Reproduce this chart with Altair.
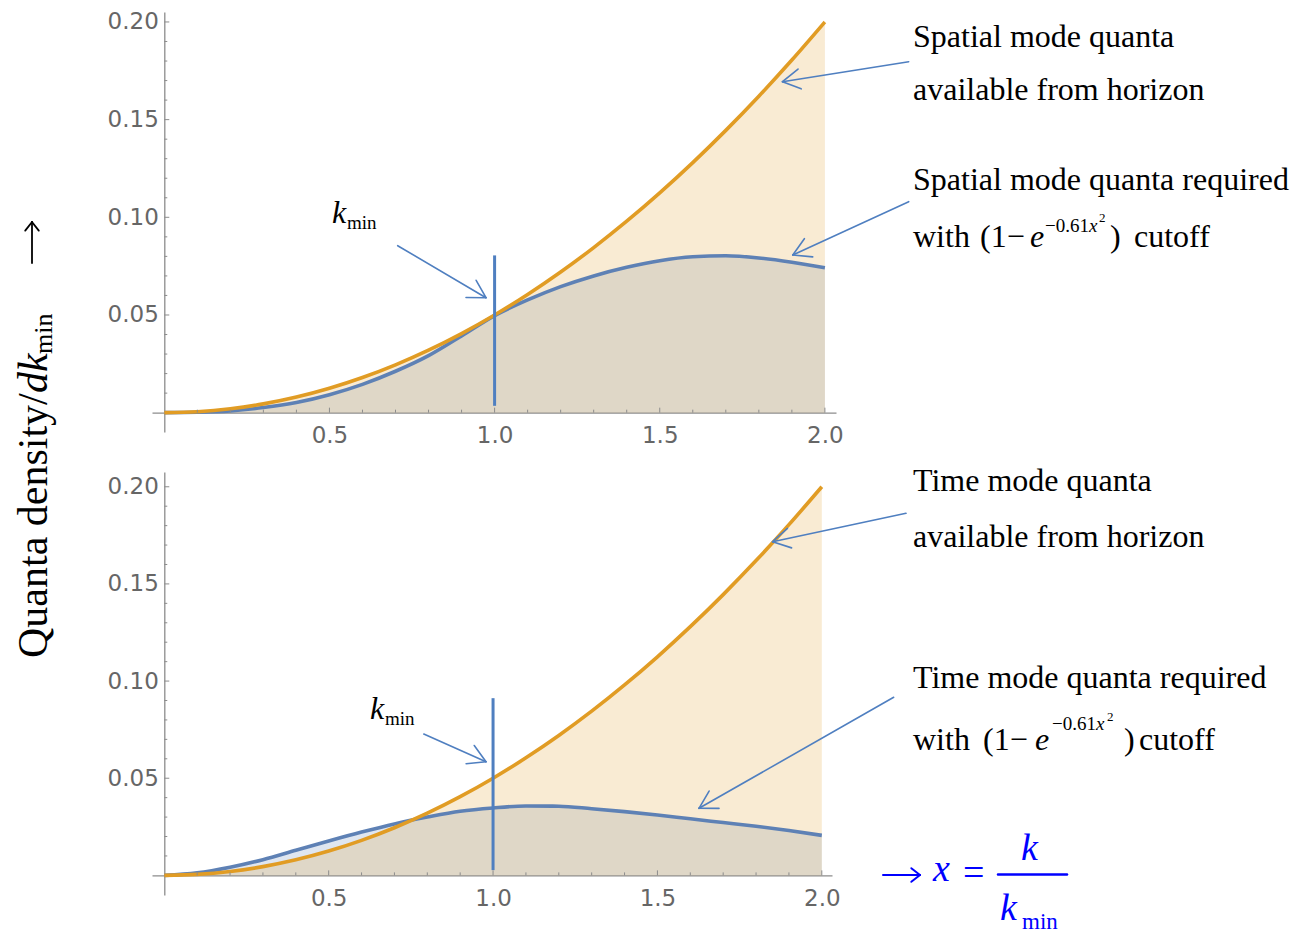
import math
import altair as alt
import pandas as pd

# ---- data -------------------------------------------------------------
# x = k / k_min
x_grid = [0.0, 0.1, 0.2, 0.3, 0.4, 0.5, 0.6, 0.7, 0.8, 0.9, 1.0,
          1.1, 1.2, 1.3, 1.4, 1.5, 1.6, 1.7, 1.8, 1.9, 2.0]

# quanta available from the horizon (same in both panels)
available = [0.0, 0.0005, 0.002, 0.0045, 0.008, 0.0125, 0.018, 0.0245, 0.032, 0.0405, 0.05,
             0.0605, 0.072, 0.0845, 0.098, 0.1125, 0.128, 0.1445, 0.162, 0.1805, 0.2]

# quanta required with the (1 - e^{-0.61 x^2}) cutoff
spatial_required = [0.0, 0.0002, 0.0009, 0.0026, 0.0052, 0.0092, 0.0145, 0.0212, 0.0292, 0.0393, 0.0497,
                    0.0577, 0.0645, 0.0700, 0.0744, 0.0778, 0.0798, 0.0803, 0.0792, 0.0770, 0.0742]
time_required = [0.0, 0.0013, 0.0042, 0.0081, 0.0129, 0.0177, 0.0223, 0.0265, 0.0300, 0.0330, 0.0347,
                 0.0357, 0.0356, 0.0343, 0.0328, 0.0311, 0.0291, 0.0272, 0.0253, 0.0231, 0.0206]

# k_min marker (x = 1) vertical extent in each panel
kmin_x = 1.0
kmin_span_top = [0.0035, 0.0805]
kmin_span_bottom = [0.0027, 0.0912]

# axis ticks
y_tick_values = [0.05, 0.10, 0.15, 0.20]
x_tick_values = [0.5, 1.0, 1.5, 2.0]
y_minor_values = [round(0.01 * i, 2) for i in range(1, 21)]
x_minor_values = [round(0.1 * i, 1) for i in range(1, 21)]

# ---- styling ----------------------------------------------------------
ORANGE = "#E19C24"
BLUE = "#5E81B5"
MARKER = "#4F7FC0"
AXIS_GRAY = "#8c8c8c"
LABEL_GRAY = "#666666"
SERIF = "Liberation Serif"
SANS = "DejaVu Sans"
MATH_BLUE = "#0000FF"

one = pd.DataFrame({"o": [0]})


def text(s, px, py, size=32, style="normal", color="black", angle=0,
         baseline="alphabetic", align="left", font=SERIF):
    return alt.Chart(one).mark_text(
        text=s, font=font, fontSize=size, fontStyle=style, color=color,
        angle=angle, baseline=baseline, align=align,
    ).encode(x=alt.value(px), y=alt.value(py))


def segment(x0, y0, x1, y1, color=MARKER, width=1.6):
    return alt.Chart(one).mark_rule(color=color, strokeWidth=width, strokeCap="round").encode(
        x=alt.value(x0), y=alt.value(y0), x2=alt.value(x1), y2=alt.value(y1))


def arrow(x0, y0, x1, y1, head=20, spread=30, color=MARKER, width=1.6):
    ang = math.atan2(y1 - y0, x1 - x0)
    parts = [segment(x0, y0, x1, y1, color, width)]
    for s in (1, -1):
        a = ang + math.pi + s * math.radians(spread)
        parts.append(segment(x1, y1, x1 + head * math.cos(a), y1 + head * math.sin(a),
                             color, width))
    return parts


def panel(required, kmin_span, width, height, xdom, ydom, xoff, yoff, extras):
    sx = alt.Scale(domain=xdom, nice=False, zero=False)
    sy = alt.Scale(domain=ydom, nice=False, zero=False)
    ax = alt.Axis(values=x_tick_values, format=".1f", ticks=False, tickSize=0,
                  offset=xoff, labelPadding=12, labelFont=SANS, labelFontSize=23,
                  labelColor=LABEL_GRAY, labelFlush=False, labelOverlap=False,
                  domainColor=AXIS_GRAY, domainWidth=1.3, grid=False, title=None)
    ay = alt.Axis(values=y_tick_values, format=".2f", ticks=False, tickSize=0,
                  offset=yoff, labelPadding=6, labelFont=SANS, labelFontSize=23,
                  labelColor=LABEL_GRAY, labelFlush=False, labelOverlap=False,
                  domainColor=AXIS_GRAY, domainWidth=1.3, grid=False, title=None)

    def X(f):
        return alt.X(f, type="quantitative", scale=sx, axis=ax)

    def Y(f):
        return alt.Y(f, type="quantitative", scale=sy, axis=ay)

    df = pd.DataFrame({"x": x_grid, "avail": available, "req": required, "zero": 0.0})
    base = alt.Chart(df)

    fill_req = base.mark_area(color=BLUE, opacity=0.2, interpolate="monotone").encode(
        x=X("x"), y=Y("req"), y2="zero")
    fill_avail = base.mark_area(color=ORANGE, opacity=0.2, interpolate="monotone").encode(
        x=X("x"), y=Y("avail"), y2="zero")
    line_req = base.mark_line(color=BLUE, strokeWidth=3.6, interpolate="monotone").encode(
        x=X("x"), y=Y("req"))
    line_avail = base.mark_line(color=ORANGE, strokeWidth=3.6, interpolate="monotone").encode(
        x=X("x"), y=Y("avail"))

    marker = alt.Chart(pd.DataFrame({"x": [kmin_x], "lo": [kmin_span[0]], "hi": [kmin_span[1]]})
                       ).mark_rule(color=MARKER, strokeWidth=3).encode(
        x=X("x"), y=Y("lo"), y2="hi")

    # inward-pointing tick marks, Mathematica style
    ytk = pd.DataFrame({"x0": 0.0, "v": y_minor_values})
    ytk["major"] = [abs(v / 0.05 - round(v / 0.05)) < 1e-6 for v in y_minor_values]
    xtk = pd.DataFrame({"y0": 0.0, "v": x_minor_values})
    xtk["major"] = [abs(v / 0.5 - round(v / 0.5)) < 1e-6 for v in x_minor_values]
    y_major = alt.Chart(ytk[ytk.major]).mark_rule(color=AXIS_GRAY, strokeWidth=1, x2Offset=5).encode(
        x=X("x0"), x2="x0:Q", y=Y("v"))
    y_minor = alt.Chart(ytk[~ytk.major]).mark_rule(color=AXIS_GRAY, strokeWidth=1, x2Offset=3).encode(
        x=X("x0"), x2="x0:Q", y=Y("v"))
    x_major = alt.Chart(xtk[xtk.major]).mark_rule(color=AXIS_GRAY, strokeWidth=1, y2Offset=-5).encode(
        x=X("v"), y=Y("y0"), y2="y0:Q")
    x_minor = alt.Chart(xtk[~xtk.major]).mark_rule(color=AXIS_GRAY, strokeWidth=1, y2Offset=-3).encode(
        x=X("v"), y=Y("y0"), y2="y0:Q")

    layers = [fill_req, fill_avail, line_req, line_avail, marker,
              y_major, y_minor, x_major, x_minor] + extras
    return alt.layer(*layers).properties(width=width, height=height)


# ---- top panel: spatial modes ----------------------------------------
canvas = alt.Chart(one).mark_rect(fillOpacity=0, strokeOpacity=0).encode(
    x=alt.value(-152), x2=alt.value(1311 - 152), y=alt.value(-12), y2=alt.value(932 - 12))

top_extras = [canvas]
top_extras += [
    text("Spatial mode quanta", 761, 34.7),
    text("available from horizon", 761, 88),
    text("Spatial mode quanta required", 761, 178),
    text("with", 761, 234.7),
    text("(1\u2212", 828, 234.7),
    text("e", 878, 234.7, style="italic"),
    text("\u22120.61", 893, 220, size=19),
    text("x", 937, 220, size=19, style="italic"),
    text("2", 947, 210, size=13),
    text(")", 958, 234.7),
    text("cutoff", 982, 234.7),
    text("k", 180, 211, style="italic"),
    text("min", 195, 217, size=19),
]
top_extras += arrow(756.7, 49.7, 630.5, 69.7)
top_extras += arrow(756.7, 189.7, 640.8, 243)
top_extras += arrow(245.7, 233.7, 334, 285.7)
# vertical axis title spanning both panels
top_extras += [
    text("Quanta density/", -105, 646, size=42, angle=270),
    text("dk", -105, 381, size=42, style="italic", angle=270),
    text("min", -100, 342, size=26, angle=270),
]
top_extras += arrow(-120, 251, -120, 210, head=11, spread=38, color="black", width=1.8)

top = panel(spatial_required, kmin_span_top, 684, 420,
            [-0.0372, 2.0336], [-0.0099, 0.2051], -19.3, -12.3, top_extras)

# ---- bottom panel: time modes ----------------------------------------
bottom_extras = [
    text("Time mode quanta", 761, 18.7),
    text("available from horizon", 761, 74.7),
    text("Time mode quanta required", 761, 216.3),
    text("with", 761, 278),
    text("(1\u2212", 831, 278),
    text("e", 883, 278, style="italic"),
    text("\u22120.61", 900, 258, size=19),
    text("x", 944, 258, size=19, style="italic"),
    text("2", 955, 249, size=13),
    text(")", 972, 278),
    text("cutoff", 987, 278),
    text("k", 218, 247, style="italic"),
    text("min", 233, 253, size=19),
    # x = k / k_min
    text("x", 781, 409, size=38, style="italic", color=MATH_BLUE),
    text("=", 811, 413, size=38, color=MATH_BLUE),
    segment(846, 402.5, 915, 402.5, color=MATH_BLUE, width=2.5),
    text("k", 869, 388, size=38, style="italic", color=MATH_BLUE),
    text("k", 848, 448, size=38, style="italic", color=MATH_BLUE),
    text("min", 870, 457, size=23, color=MATH_BLUE),
]
bottom_extras += arrow(731, 403, 768, 403, head=11, spread=38, color=MATH_BLUE, width=2)
bottom_extras += arrow(754, 41.3, 620.6, 69.7)
bottom_extras += arrow(741.7, 225.3, 547, 336.3)
bottom_extras += arrow(271.8, 262, 334, 289.7)

bottom = panel(time_required, kmin_span_bottom, 680, 423,
               [-0.0374, 2.031], [-0.0101, 0.2076], -19.6, -12.3, bottom_extras)

chart = alt.vconcat(top, bottom, spacing=40, bounds="flush").properties(
    padding=0, background="white",
    autosize=alt.AutoSizeParams(type="pad"),
).configure_view(stroke=None)

chart.save("out.html", embed_options={"renderer": "svg", "actions": False})
